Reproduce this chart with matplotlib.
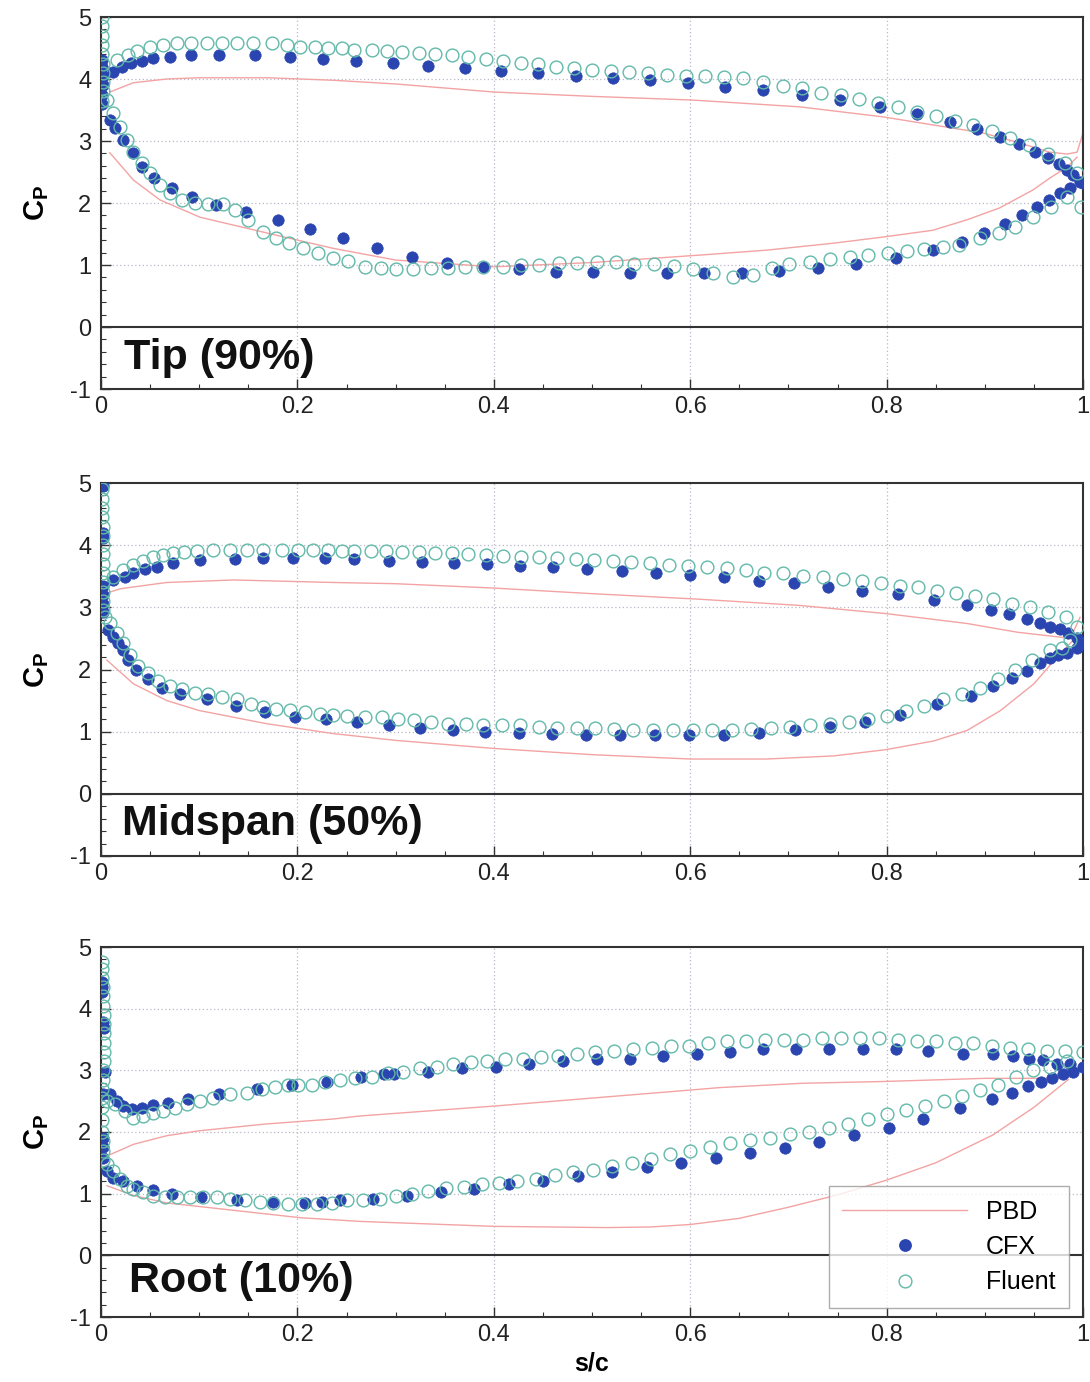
import numpy as np
import matplotlib
matplotlib.use("Agg")
import matplotlib.pyplot as plt
from matplotlib.ticker import MultipleLocator
from matplotlib.lines import Line2D

plt.rcParams['font.family'] = ['Liberation Sans', 'DejaVu Sans']
plt.rcParams['mathtext.fontset'] = 'custom'
plt.rcParams['mathtext.bf'] = 'Liberation Sans:bold'
plt.rcParams['mathtext.rm'] = 'Liberation Sans'
plt.rcParams['axes.unicode_minus'] = False

# ---------------- Tip (90%) ----------------
tip_pbd_up_x = [0.009, 0.033, 0.067, 0.10, 0.17, 0.236, 0.30, 0.40, 0.50, 0.603, 0.712, 0.796, 0.847, 0.898, 0.933, 0.966, 0.984, 0.994, 1.0]
tip_pbd_up_y = [3.79, 3.94, 4.00, 4.02, 4.02, 3.98, 3.92, 3.79, 3.72, 3.66, 3.55, 3.39, 3.26, 3.13, 2.98, 2.82, 2.79, 2.82, 3.13]
tip_pbd_lo_x = [0.009, 0.033, 0.060, 0.101, 0.168, 0.236, 0.30, 0.40, 0.50, 0.61, 0.678, 0.745, 0.796, 0.847, 0.882, 0.915, 0.949, 0.966, 0.984, 0.994]
tip_pbd_lo_y = [2.81, 2.37, 2.05, 1.77, 1.52, 1.27, 1.08, 0.97, 1.04, 1.16, 1.24, 1.35, 1.45, 1.56, 1.73, 1.92, 2.21, 2.40, 2.58, 2.74]

tip_cfx_x = [0.001, 0.001, 0.002, 0.002, 0.001, 0.001,
             0.012, 0.021, 0.031, 0.042, 0.053, 0.070, 0.092, 0.12, 0.157, 0.192, 0.226, 0.26, 0.297, 0.333,
             0.371, 0.407, 0.445, 0.484, 0.521, 0.559, 0.598, 0.635, 0.674, 0.714, 0.753, 0.793, 0.831, 0.865,
             0.892, 0.915, 0.935, 0.951, 0.964, 0.976, 0.984, 0.990, 0.997, 1.0,
             0.987, 0.977, 0.965, 0.953, 0.938, 0.921, 0.899, 0.877, 0.847, 0.810, 0.769, 0.730, 0.690, 0.653,
             0.614, 0.576, 0.539, 0.501, 0.463, 0.426, 0.390, 0.352, 0.317, 0.281, 0.246, 0.213, 0.180, 0.148,
             0.117, 0.093, 0.072, 0.054, 0.042, 0.033, 0.022, 0.014, 0.009]
tip_cfx_y = [4.30, 4.20, 4.05, 3.90, 3.75, 3.60,
             4.11, 4.19, 4.26, 4.29, 4.34, 4.36, 4.39, 4.39, 4.39, 4.36, 4.32, 4.29, 4.26, 4.21,
             4.18, 4.13, 4.10, 4.05, 4.02, 3.98, 3.94, 3.87, 3.82, 3.74, 3.66, 3.55, 3.44, 3.31,
             3.19, 3.06, 2.95, 2.82, 2.73, 2.63, 2.53, 2.45, 2.34, 2.32,
             2.24, 2.16, 2.05, 1.94, 1.81, 1.66, 1.52, 1.37, 1.24, 1.11, 1.02, 0.95, 0.90, 0.87,
             0.87, 0.87, 0.87, 0.89, 0.89, 0.94, 0.97, 1.03, 1.13, 1.27, 1.44, 1.58, 1.73, 1.85,
             1.97, 2.10, 2.24, 2.40, 2.58, 2.81, 3.02, 3.21, 3.34]

tip_flu_x = [0.001, 0.001, 0.001, 0.001, 0.001, 0.002, 0.002, 0.002, 0.002, 0.001,
             0.016, 0.027, 0.037, 0.050, 0.063, 0.077, 0.092, 0.108, 0.123, 0.138, 0.155, 0.174, 0.189, 0.203,
             0.218, 0.231, 0.245, 0.258, 0.276, 0.291, 0.307, 0.324, 0.340, 0.357, 0.374, 0.392, 0.409, 0.428,
             0.445, 0.463, 0.482, 0.500, 0.519, 0.538, 0.557, 0.576, 0.596, 0.615, 0.634, 0.654, 0.674, 0.694,
             0.714, 0.733, 0.754, 0.772, 0.791, 0.812, 0.831, 0.850, 0.870, 0.888, 0.907, 0.926, 0.945, 0.964,
             0.982, 0.994,
             0.998, 0.984, 0.967, 0.949, 0.931, 0.914, 0.895, 0.874, 0.857, 0.838, 0.821, 0.801, 0.781, 0.763,
             0.742, 0.722, 0.701, 0.683, 0.664, 0.644, 0.623, 0.603, 0.583, 0.563, 0.543, 0.524, 0.505, 0.485,
             0.466, 0.446, 0.428, 0.409, 0.389, 0.371, 0.353, 0.336, 0.318, 0.300, 0.285, 0.269, 0.2515, 0.236,
             0.221, 0.206, 0.191, 0.178, 0.165, 0.150, 0.136, 0.124, 0.109, 0.096, 0.082, 0.070, 0.060, 0.050,
             0.042, 0.033, 0.026, 0.019, 0.012, 0.006]
tip_flu_y = [5.00, 4.85, 4.70, 4.55, 4.40, 4.25, 4.10, 3.95, 3.80, 3.65,
             4.31, 4.39, 4.45, 4.52, 4.55, 4.58, 4.58, 4.58, 4.58, 4.58, 4.58, 4.58, 4.55, 4.52,
             4.52, 4.50, 4.50, 4.47, 4.47, 4.45, 4.44, 4.42, 4.40, 4.39, 4.35, 4.32, 4.29, 4.26,
             4.24, 4.19, 4.18, 4.15, 4.13, 4.11, 4.10, 4.06, 4.05, 4.05, 4.04, 4.02, 3.95, 3.89,
             3.85, 3.77, 3.74, 3.68, 3.61, 3.55, 3.47, 3.40, 3.32, 3.26, 3.16, 3.05, 2.94, 2.79,
             2.65, 2.48,
             1.94, 2.10, 1.94, 1.77, 1.61, 1.52, 1.44, 1.32, 1.29, 1.26, 1.23, 1.19, 1.16, 1.13,
             1.10, 1.05, 1.02, 0.95, 0.84, 0.81, 0.87, 0.94, 0.98, 1.02, 1.02, 1.05, 1.05, 1.03,
             1.03, 1.00, 1.00, 0.97, 0.97, 0.97, 0.95, 0.95, 0.94, 0.94, 0.95, 0.97, 1.06, 1.11,
             1.19, 1.27, 1.35, 1.44, 1.53, 1.73, 1.89, 1.98, 1.98, 2.00, 2.05, 2.16, 2.29, 2.48,
             2.65, 2.82, 3.02, 3.23, 3.45, 3.66]

# ---------------- Midspan (50%) ----------------
mid_pbd_up_x = [0.006, 0.02, 0.067, 0.135, 0.236, 0.30, 0.40, 0.50, 0.61, 0.712, 0.799, 0.882, 0.933, 0.977, 0.987, 0.997]
mid_pbd_up_y = [3.23, 3.30, 3.40, 3.44, 3.40, 3.38, 3.31, 3.22, 3.13, 3.03, 2.90, 2.74, 2.60, 2.52, 2.50, 2.84]
mid_pbd_lo_x = [0.006, 0.033, 0.067, 0.10, 0.168, 0.236, 0.30, 0.40, 0.50, 0.60, 0.678, 0.746, 0.799, 0.848, 0.882, 0.916, 0.950, 0.977, 0.990]
mid_pbd_lo_y = [2.15, 1.77, 1.50, 1.34, 1.13, 0.97, 0.86, 0.73, 0.63, 0.56, 0.56, 0.61, 0.71, 0.85, 1.02, 1.34, 1.77, 2.26, 2.47]

mid_cfx_x = [0.002, 0.002, 0.002, 0.002, 0.002, 0.002, 0.002,
             0.012, 0.024, 0.033, 0.045, 0.057, 0.073, 0.101, 0.136, 0.165, 0.196, 0.228, 0.258, 0.293,
             0.327, 0.359, 0.393, 0.427, 0.460, 0.495, 0.531, 0.565, 0.600, 0.634, 0.670, 0.706, 0.740,
             0.775, 0.812, 0.848, 0.882, 0.906, 0.925, 0.943, 0.956, 0.966, 0.977, 0.985, 0.994, 1.0,
             0.994, 0.984, 0.975, 0.966, 0.956, 0.943, 0.928, 0.908, 0.886, 0.851, 0.814, 0.778, 0.742,
             0.707, 0.670, 0.634, 0.599, 0.564, 0.529, 0.494, 0.459, 0.426, 0.391, 0.358, 0.325, 0.293,
             0.261, 0.229, 0.198, 0.167, 0.137, 0.108, 0.080, 0.062, 0.048, 0.036, 0.027, 0.022, 0.017,
             0.012, 0.007]
mid_cfx_y = [4.95, 4.20, 4.12, 3.35, 3.20, 3.05, 2.92,
             3.44, 3.48, 3.55, 3.61, 3.65, 3.71, 3.76, 3.77, 3.79, 3.79, 3.79, 3.77, 3.74,
             3.73, 3.71, 3.69, 3.66, 3.65, 3.61, 3.58, 3.55, 3.52, 3.48, 3.42, 3.39, 3.32,
             3.26, 3.21, 3.11, 3.03, 2.95, 2.89, 2.82, 2.74, 2.69, 2.65, 2.58, 2.50, 2.42,
             2.34, 2.27, 2.23, 2.18, 2.10, 1.98, 1.87, 1.73, 1.58, 1.44, 1.27, 1.16, 1.08,
             1.03, 0.98, 0.95, 0.94, 0.94, 0.94, 0.95, 0.97, 0.98, 1.00, 1.02, 1.06, 1.10,
             1.15, 1.21, 1.24, 1.31, 1.42, 1.52, 1.61, 1.71, 1.85, 2.00, 2.15, 2.31, 2.42,
             2.52, 2.63]

mid_flu_x = [0.001, 0.001, 0.001, 0.001, 0.002, 0.002, 0.002, 0.002, 0.002, 0.002, 0.002, 0.002, 0.002, 0.002,
             0.012, 0.022, 0.033, 0.043, 0.053, 0.063, 0.073, 0.085, 0.098, 0.114, 0.131, 0.149, 0.165, 0.184,
             0.201, 0.216, 0.231, 0.245, 0.258, 0.275, 0.290, 0.307, 0.324, 0.340, 0.357, 0.374, 0.392, 0.409,
             0.428, 0.446, 0.464, 0.484, 0.502, 0.521, 0.540, 0.559, 0.578, 0.598, 0.617, 0.637, 0.657, 0.675,
             0.695, 0.715, 0.735, 0.756, 0.775, 0.794, 0.814, 0.832, 0.851, 0.871, 0.890, 0.908, 0.928, 0.946,
             0.964, 0.983, 0.994,
             0.987, 0.979, 0.966, 0.948, 0.931, 0.913, 0.895, 0.877, 0.857, 0.838, 0.820, 0.800, 0.781, 0.762,
             0.742, 0.722, 0.702, 0.682, 0.662, 0.643, 0.622, 0.603, 0.582, 0.562, 0.542, 0.522, 0.503, 0.485,
             0.464, 0.446, 0.427, 0.408, 0.389, 0.372, 0.353, 0.336, 0.319, 0.302, 0.286, 0.269, 0.251, 0.236,
             0.223, 0.208, 0.192, 0.178, 0.165, 0.153, 0.138, 0.123, 0.109, 0.096, 0.082, 0.070, 0.058, 0.048,
             0.038, 0.030, 0.022, 0.016, 0.009, 0.004]
mid_flu_y = [4.90, 4.75, 4.60, 4.45, 4.30, 4.15, 4.00, 3.85, 3.70, 3.55, 3.40, 3.25, 3.10, 2.95,
             3.48, 3.60, 3.68, 3.74, 3.81, 3.84, 3.87, 3.89, 3.90, 3.92, 3.92, 3.92, 3.92, 3.92,
             3.92, 3.92, 3.92, 3.90, 3.90, 3.90, 3.90, 3.89, 3.89, 3.87, 3.87, 3.85, 3.84, 3.82,
             3.81, 3.81, 3.79, 3.77, 3.76, 3.74, 3.73, 3.71, 3.68, 3.66, 3.65, 3.63, 3.60, 3.56,
             3.55, 3.50, 3.48, 3.45, 3.42, 3.39, 3.35, 3.32, 3.27, 3.23, 3.18, 3.13, 3.06, 3.00,
             2.92, 2.84, 2.68,
             2.47, 2.35, 2.31, 2.15, 2.00, 1.85, 1.71, 1.60, 1.52, 1.42, 1.34, 1.26, 1.21, 1.15,
             1.13, 1.10, 1.08, 1.06, 1.05, 1.03, 1.03, 1.03, 1.03, 1.03, 1.03, 1.05, 1.06, 1.06,
             1.06, 1.08, 1.10, 1.10, 1.11, 1.13, 1.13, 1.16, 1.19, 1.21, 1.23, 1.23, 1.26, 1.27,
             1.29, 1.32, 1.35, 1.37, 1.40, 1.45, 1.52, 1.55, 1.60, 1.63, 1.68, 1.74, 1.82, 1.94,
             2.06, 2.23, 2.42, 2.58, 2.74, 2.84]

# ---------------- Root (10%) ----------------
root_pbd_up_x = [0.006, 0.033, 0.067, 0.10, 0.168, 0.236, 0.264, 0.40, 0.60, 0.63, 0.714, 0.799, 0.90, 0.97, 0.99, 1.0]
root_pbd_up_y = [1.61, 1.80, 1.94, 2.02, 2.13, 2.21, 2.26, 2.42, 2.68, 2.72, 2.79, 2.82, 2.87, 2.87, 2.90, 3.03]
root_pbd_lo_x = [0.006, 0.033, 0.067, 0.135, 0.203, 0.264, 0.40, 0.515, 0.56, 0.60, 0.65, 0.70, 0.75, 0.80, 0.85, 0.908, 0.95, 0.985]
root_pbd_lo_y = [1.13, 0.97, 0.85, 0.73, 0.61, 0.55, 0.47, 0.45, 0.46, 0.50, 0.60, 0.78, 0.98, 1.22, 1.50, 1.95, 2.40, 2.85]

root_cfx_x = [0.001, 0.001, 0.001, 0.002, 0.003, 0.004, 0.002, 0.002, 0.002, 0.002,
              0.009, 0.016, 0.022, 0.032, 0.042, 0.053, 0.068, 0.089, 0.120, 0.159, 0.194, 0.230, 0.265,
              0.288, 0.298, 0.333, 0.368, 0.402, 0.436, 0.470, 0.505, 0.539, 0.572, 0.607, 0.641, 0.674,
              0.708, 0.741, 0.776, 0.810, 0.842, 0.878, 0.908, 0.929, 0.945, 0.959, 0.974, 0.987, 1.0,
              0.990, 0.980, 0.968, 0.957, 0.944, 0.928, 0.907, 0.875, 0.837, 0.802, 0.767, 0.731, 0.697,
              0.661, 0.626, 0.591, 0.556, 0.520, 0.486, 0.450, 0.415, 0.380, 0.346, 0.312, 0.277, 0.243,
              0.225, 0.208, 0.175, 0.138, 0.102, 0.072, 0.053, 0.037, 0.022, 0.012, 0.006]
root_cfx_y = [4.44, 4.35, 4.27, 3.79, 3.68, 2.98, 2.61, 1.90, 1.75, 1.58,
              2.61, 2.50, 2.42, 2.37, 2.39, 2.44, 2.47, 2.53, 2.61, 2.69, 2.77, 2.81, 2.89,
              2.94, 2.94, 2.98, 3.03, 3.06, 3.10, 3.15, 3.18, 3.19, 3.24, 3.27, 3.30, 3.34,
              3.35, 3.35, 3.35, 3.35, 3.32, 3.27, 3.26, 3.23, 3.19, 3.16, 3.11, 3.10, 3.06,
              2.98, 2.94, 2.87, 2.81, 2.74, 2.63, 2.53, 2.39, 2.21, 2.06, 1.95, 1.84, 1.74,
              1.66, 1.58, 1.50, 1.44, 1.35, 1.29, 1.21, 1.15, 1.08, 1.02, 0.97, 0.92, 0.90,
              0.87, 0.85, 0.87, 0.90, 0.95, 1.00, 1.06, 1.13, 1.21, 1.26, 1.37]

root_flu_x = [0.001, 0.001, 0.001, 0.002, 0.002, 0.002, 0.003, 0.003, 0.003, 0.003, 0.003, 0.003, 0.002,
              0.002, 0.001, 0.001, 0.001, 0.001, 0.001, 0.002, 0.002, 0.002,
              0.006, 0.014, 0.024, 0.033, 0.043, 0.053, 0.063, 0.075, 0.088, 0.101, 0.114, 0.131, 0.149,
              0.164, 0.177, 0.190, 0.201, 0.215, 0.228, 0.243, 0.259, 0.276, 0.292, 0.308, 0.325, 0.342,
              0.358, 0.377, 0.393, 0.411, 0.430, 0.448, 0.465, 0.485, 0.503, 0.522, 0.542, 0.561, 0.580,
              0.599, 0.618, 0.637, 0.657, 0.676, 0.696, 0.715, 0.734, 0.754, 0.773, 0.792, 0.812, 0.831,
              0.850, 0.870, 0.888, 0.907, 0.926, 0.944, 0.963, 0.982, 1.0,
              0.984, 0.966, 0.949, 0.932, 0.913, 0.895, 0.877, 0.858, 0.839, 0.820, 0.800, 0.781, 0.761,
              0.741, 0.721, 0.702, 0.681, 0.661, 0.641, 0.620, 0.600, 0.579, 0.560, 0.541, 0.520, 0.501,
              0.481, 0.462, 0.443, 0.424, 0.405, 0.388, 0.370, 0.351, 0.333, 0.317, 0.300, 0.284, 0.267,
              0.251, 0.235, 0.220, 0.205, 0.190, 0.175, 0.162, 0.147, 0.131, 0.118, 0.104, 0.091, 0.077,
              0.065, 0.053, 0.043, 0.033, 0.026, 0.019, 0.012, 0.006]
root_flu_y = [4.76, 4.65, 4.50, 4.35, 4.20, 4.05, 3.90, 3.75, 3.60, 3.45, 3.30, 3.15, 3.00,
              2.85, 2.70, 2.55, 2.40, 2.20, 2.00, 1.85, 1.70, 1.55,
              2.50, 2.45, 2.34, 2.23, 2.26, 2.31, 2.34, 2.39, 2.45, 2.50, 2.55, 2.61, 2.63,
              2.69, 2.73, 2.76, 2.77, 2.77, 2.81, 2.85, 2.87, 2.90, 2.95, 2.98, 3.03, 3.06,
              3.10, 3.13, 3.15, 3.18, 3.19, 3.21, 3.24, 3.26, 3.29, 3.32, 3.35, 3.37, 3.39,
              3.40, 3.44, 3.47, 3.48, 3.50, 3.50, 3.50, 3.52, 3.52, 3.52, 3.52, 3.50, 3.48,
              3.47, 3.45, 3.44, 3.40, 3.37, 3.35, 3.32, 3.32, 3.29,
              3.15, 3.06, 3.00, 2.89, 2.77, 2.68, 2.58, 2.50, 2.42, 2.35, 2.29, 2.21, 2.13,
              2.06, 2.00, 1.97, 1.90, 1.87, 1.82, 1.76, 1.69, 1.65, 1.56, 1.50, 1.45, 1.39,
              1.35, 1.31, 1.24, 1.21, 1.18, 1.15, 1.11, 1.10, 1.05, 1.00, 0.97, 0.92, 0.90,
              0.89, 0.85, 0.84, 0.84, 0.84, 0.85, 0.87, 0.90, 0.92, 0.94, 0.94, 0.94, 0.94,
              0.94, 0.97, 1.02, 1.08, 1.13, 1.24, 1.37, 1.48]

panel_titles = ["Tip (90%)", "Midspan (50%)", "Root (10%)"]
panel_title_pos = [(0.023, -0.5), (0.021, -0.48), (0.029, -0.42)]
x_ticks = [0, 0.2, 0.4, 0.6, 0.8, 1]
x_ticklabels = ["0", "0.2", "0.4", "0.6", "0.8", "1"]
y_ticks = [-1, 0, 1, 2, 3, 4, 5]

PBD_COLOR = "#f3a3a3"
CFX_COLOR = "#2a44b0"
FLU_COLOR = "#62b9a9"
AX_COLOR = "#333333"

panels = [
    (tip_pbd_up_x, tip_pbd_up_y, tip_pbd_lo_x, tip_pbd_lo_y, tip_cfx_x, tip_cfx_y, tip_flu_x, tip_flu_y),
    (mid_pbd_up_x, mid_pbd_up_y, mid_pbd_lo_x, mid_pbd_lo_y, mid_cfx_x, mid_cfx_y, mid_flu_x, mid_flu_y),
    (root_pbd_up_x, root_pbd_up_y, root_pbd_lo_x, root_pbd_lo_y, root_cfx_x, root_cfx_y, root_flu_x, root_flu_y),
]

fig = plt.figure(figsize=(10.9, 13.82), dpi=100)
W, H = 1090, 1382
left, right = 101, 1083
tops = [17, 483, 947]
bottoms = [389, 856, 1317]

axes = []
for i, data in enumerate(panels):
    ax = fig.add_axes([left / W, 1 - bottoms[i] / H, (right - left) / W, (bottoms[i] - tops[i]) / H])
    axes.append(ax)
    pux, puy, plx, ply, cx, cy, fx, fy = data

    ax.plot(pux, puy, color=PBD_COLOR, lw=1.0, zorder=2)
    ax.plot(plx, ply, color=PBD_COLOR, lw=1.0, zorder=2)
    ax.plot(cx, cy, 'o', ls='none', ms=8.2, mfc=CFX_COLOR, mec=CFX_COLOR, mew=0.5, zorder=3)
    ax.plot(fx, fy, 'o', ls='none', ms=9.2, mfc='none', mec=FLU_COLOR, mew=1.0, zorder=4)

    ax.axhline(0, color=AX_COLOR, lw=1.5, zorder=1)
    ax.set_xlim(0, 1)
    ax.set_ylim(-1, 5)
    ax.set_xticks(x_ticks)
    ax.set_xticklabels(x_ticklabels)
    ax.set_yticks(y_ticks)
    ax.xaxis.set_minor_locator(MultipleLocator(0.05))
    ax.yaxis.set_minor_locator(MultipleLocator(0.2))
    ax.tick_params(which='both', direction='in', colors=AX_COLOR, labelcolor='#222222')
    ax.tick_params(which='major', length=7, width=1.0, labelsize=17)
    ax.tick_params(which='minor', length=3.5, width=0.8)
    ax.tick_params(axis='x', pad=5)
    ax.tick_params(axis='y', pad=7)
    for s in ax.spines.values():
        s.set_color(AX_COLOR)
        s.set_linewidth(1.5)

    for gx in [0.2, 0.4, 0.6, 0.8]:
        ax.axvline(gx, color='#b8b8c8', lw=0.9, ls=(0, (1, 2)), zorder=0)
    for gy in [1, 2, 3, 4]:
        ax.axhline(gy, color='#b8b8c8', lw=0.9, ls=(0, (1, 2)), zorder=0)

    ax.set_ylabel(r'$\mathbf{C_P}$', fontsize=21, labelpad=14)
    ax.text(panel_title_pos[i][0], panel_title_pos[i][1], panel_titles[i],
            fontsize=31, fontweight='bold', color='#111111', ha='left', va='center', zorder=5)

axes[2].set_xlabel('s/c', fontsize=18, fontweight='bold', labelpad=4)

handles = [
    Line2D([], [], color=PBD_COLOR, lw=1.0),
    Line2D([], [], marker='o', ls='none', ms=8.2, mfc=CFX_COLOR, mec=CFX_COLOR),
    Line2D([], [], marker='o', ls='none', ms=9.2, mfc='none', mec=FLU_COLOR, mew=1.0),
]
leg = axes[2].legend(handles, ["PBD", "CFX", "Fluent"], loc='lower right',
                     bbox_to_anchor=(0.986, 0.024), fontsize=18, frameon=True, fancybox=False,
                     handlelength=5.0, handletextpad=0.75, labelspacing=0.45, borderpad=0.55,
                     borderaxespad=0)
leg.get_frame().set_edgecolor('#999999')
leg.get_frame().set_linewidth(1.0)
leg.set_zorder(6)

fig.savefig("out.png", dpi=100)
